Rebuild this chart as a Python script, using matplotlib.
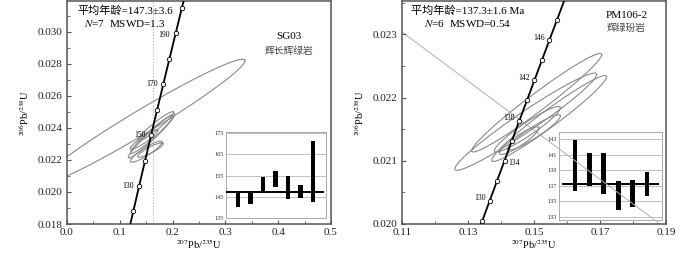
import numpy as np
import matplotlib
matplotlib.use('Agg')
import matplotlib.pyplot as plt
from matplotlib.ticker import MultipleLocator, FormatStrFormatter, FixedLocator

plt.rcParams['font.family'] = ['Liberation Serif', 'Noto Sans CJK SC']
plt.rcParams['mathtext.fontset'] = 'stix'

# decay constants (per year)
L238 = 1.55125e-10
L235 = 9.8485e-10

# ---------------- SG03 data ----------------
sg_marker_ages = [120, 130, 140, 150, 160, 170, 180, 190, 200]
sg_label_ages = [130, 150, 170, 190]
# ellipses: centre x, centre y, half extent x, half extent y, correlation
sg_ell_x = [0.150, 0.158, 0.160, 0.168, 0.160, 0.146, 0.140]
sg_ell_y = [0.02252, 0.02262, 0.02358, 0.02410, 0.02350, 0.02328, 0.02434]
sg_ell_a = [0.030, 0.024, 0.040, 0.034, 0.044, 0.026, 0.197]
sg_ell_b = [0.00066, 0.00045, 0.00118, 0.00092, 0.00138, 0.00062, 0.00395]
sg_ell_r = [0.90, 0.88, 0.96, 0.95, 0.97, 0.92, 0.976]
sg_ref_x = 0.162
sg_xticks = [0.0, 0.1, 0.2, 0.3, 0.4, 0.5]
sg_yticks = [0.018, 0.020, 0.022, 0.024, 0.026, 0.028, 0.030]
sg_bar_low = [140.0, 141.6, 147.0, 149.7, 143.9, 144.4, 142.4]
sg_bar_high = [146.6, 146.6, 154.3, 157.1, 154.8, 150.6, 171.4]
sg_mean = 147.3
sg_inset_ticks = [135, 145, 155, 165, 175]

# ---------------- PM106-2 data ----------------
pm_marker_ages = [128, 130, 132, 134, 136, 138, 140, 142, 144, 146, 148]
pm_label_ages = [130, 134, 138, 142, 146]
pm_ell_x = [0.1508, 0.1475, 0.1546, 0.1480, 0.1500, 0.1455]
pm_ell_y = [0.02192, 0.02162, 0.02167, 0.02150, 0.02145, 0.02132]
pm_ell_a = [0.0197, 0.0215, 0.0174, 0.0100, 0.0080, 0.0060]
pm_ell_b = [0.00078, 0.00077, 0.00068, 0.00036, 0.00028, 0.00022]
pm_ell_r = [0.975, 0.97, 0.97, 0.94, 0.93, 0.90]
pm_ref_x = [0.11, 0.1882]
pm_ref_y = [0.02304, 0.0200]
pm_xticks = [0.11, 0.13, 0.15, 0.17, 0.19]
pm_yticks = [0.020, 0.021, 0.022, 0.023]
pm_bar_low = [136.3, 137.0, 136.0, 133.9, 134.3, 135.7]
pm_bar_high = [142.9, 141.3, 141.2, 137.6, 137.7, 138.8]
pm_mean = 137.3
pm_inset_ticks = [133, 135, 137, 139, 141, 143]

GRAY = '#8a8a8a'
SPINE = '#555555'


def conc(t_ma):
    t = np.asarray(t_ma, dtype=float) * 1e6
    return np.exp(L235 * t) - 1, np.exp(L238 * t) - 1


def ellipse(ax, cx, cy, a, b, r):
    th = np.linspace(0, 2 * np.pi, 300)
    x = cx + a * np.cos(th)
    y = cy + b * (r * np.cos(th) + np.sqrt(1 - r * r) * np.sin(th))
    ax.plot(x, y, color=GRAY, lw=0.8, zorder=2)


def style_main(ax):
    for s in ax.spines.values():
        s.set_color(SPINE)
        s.set_linewidth(1.1)
    ax.tick_params(direction='in', which='both', labelsize=8, colors=SPINE,
                   labelcolor='#222222', pad=3)
    ax.tick_params(which='major', length=3)
    ax.tick_params(which='minor', length=2)
    ax.set_xlabel(r'$^{207}$Pb/$^{235}$U', fontsize=7.5, labelpad=0)
    ax.set_ylabel(r'$^{206}$Pb/$^{238}$U', fontsize=7.5, labelpad=5)


def draw_conc(ax, t0, t1, marker_ages):
    tt = np.linspace(t0, t1, 400)
    cx, cy = conc(tt)
    ax.plot(cx, cy, color='black', lw=1.3, zorder=4)
    mx, my = conc(marker_ages)
    ax.plot(mx, my, 'o', ms=3.2, mfc='white', mec='black', mew=0.6, zorder=5)


def inset(fig, rect, low, high, mean, ticks, ylim, xlim, meanspan, width):
    ia = fig.add_axes(rect)
    ia.set_facecolor('white')
    idx = np.arange(len(low))
    ia.bar(idx, np.array(high) - np.array(low), bottom=low, width=width,
           color='black', zorder=3)
    ia.plot(meanspan, [mean, mean], color='black', lw=1.4, zorder=4)
    ia.set_yticks(ticks)
    ia.set_ylim(*ylim)
    ia.set_xlim(*xlim)
    ia.set_xticks([])
    ia.yaxis.grid(True, color='#b5b5b5', lw=0.6)
    ia.set_axisbelow(True)
    ia.tick_params(axis='y', length=0, labelsize=4.5, pad=1.5,
                   labelcolor='#333333')
    for s in ia.spines.values():
        s.set_color('#aaaaaa')
        s.set_linewidth(0.7)
    return ia


fig = plt.figure(figsize=(7.0, 2.54), dpi=100)

# ---------------- left panel ----------------
ax1 = fig.add_axes([67 / 700, 30 / 254, 264 / 700, 223 / 254])
ax1.set_xlim(0, 0.5)
ax1.set_ylim(0.018, 0.03193)
ax1.axvline(sg_ref_x, color='#b0b0b0', lw=0.8, ls=':', zorder=1)
for cx, cy, a, b, r in zip(sg_ell_x, sg_ell_y, sg_ell_a, sg_ell_b, sg_ell_r):
    ellipse(ax1, cx, cy, a, b, r)
draw_conc(ax1, 110, 215, sg_marker_ages)
lx, ly = conc(sg_label_ages)
for t, x, y in zip(sg_label_ages, lx, ly):
    dy = -1.5 if t == 190 else 0
    ax1.annotate(str(t), (x, y), xytext=(-4, dy), textcoords='offset points',
                 ha='right', va='center', fontsize=5.5, zorder=6)
ax1.xaxis.set_major_locator(FixedLocator(sg_xticks))
ax1.xaxis.set_minor_locator(MultipleLocator(0.05))
ax1.yaxis.set_major_locator(FixedLocator(sg_yticks))
ax1.yaxis.set_minor_locator(MultipleLocator(0.001))
ax1.xaxis.set_major_formatter(FormatStrFormatter('%.1f'))
ax1.yaxis.set_major_formatter(FormatStrFormatter('%.3f'))
style_main(ax1)
ax1.text(0.22, 0.98, '平均年龄=147.3±3.6', transform=ax1.transAxes,
         ha='center', va='top', fontsize=8)
ax1.text(0.22, 0.925, r'$N$=7  MSWD=1.3', transform=ax1.transAxes,
         ha='center', va='top', fontsize=8)
ax1.text(0.84, 0.84, 'SG03', transform=ax1.transAxes, ha='center',
         va='center', fontsize=8)
ax1.text(0.84, 0.775, '辉长辉绿岩', transform=ax1.transAxes, ha='center',
         va='center', fontsize=7, color='#444444')
inset(fig, [226 / 700, 36 / 254, 100 / 700, 86 / 254], sg_bar_low,
      sg_bar_high, sg_mean, sg_inset_ticks, (135, 175.5), (-0.96, 7.04),
      [-0.88, 6.8], 0.35)

# ---------------- right panel ----------------
ax2 = fig.add_axes([402 / 700, 30 / 254, 264 / 700, 223 / 254])
ax2.set_xlim(0.11, 0.19)
ax2.set_ylim(0.020, 0.02353)
ax2.plot(pm_ref_x, pm_ref_y, color='#b0b0b0', lw=0.7, zorder=1)
for cx, cy, a, b, r in zip(pm_ell_x, pm_ell_y, pm_ell_a, pm_ell_b, pm_ell_r):
    ellipse(ax2, cx, cy, a, b, r)
draw_conc(ax2, 127, 150, pm_marker_ages)
lx, ly = conc(pm_label_ages)
for t, x, y in zip(pm_label_ages, lx, ly):
    if t == 134:
        ax2.annotate(str(t), (x, y), xytext=(3, -2), textcoords='offset points',
                     ha='left', va='center', fontsize=5.5, zorder=6)
    else:
        ax2.annotate(str(t), (x, y), xytext=(-3, 2), textcoords='offset points',
                     ha='right', va='center', fontsize=5.5, zorder=6)
ax2.xaxis.set_major_locator(FixedLocator(pm_xticks))
ax2.xaxis.set_minor_locator(MultipleLocator(0.01))
ax2.yaxis.set_major_locator(FixedLocator(pm_yticks))
ax2.yaxis.set_minor_locator(MultipleLocator(0.0005))
ax2.xaxis.set_major_formatter(FormatStrFormatter('%.2f'))
ax2.yaxis.set_major_formatter(FormatStrFormatter('%.3f'))
style_main(ax2)
ax2.text(0.25, 0.98, '平均年龄=137.3±1.6 Ma', transform=ax2.transAxes,
         ha='center', va='top', fontsize=8)
ax2.text(0.25, 0.925, r'$N$=6  MSWD=0.54', transform=ax2.transAxes,
         ha='center', va='top', fontsize=8)
ax2.text(0.85, 0.935, 'PM106-2', transform=ax2.transAxes, ha='center',
         va='center', fontsize=8)
ax2.text(0.85, 0.88, '辉绿玢岩', transform=ax2.transAxes, ha='center',
         va='center', fontsize=7, color='#444444')
ia2 = inset(fig, [559 / 700, 34 / 254, 103 / 700, 88 / 254], pm_bar_low,
            pm_bar_high, pm_mean, pm_inset_ticks, (132.6, 143.95),
            (-1.11, 6.04), [-0.83, 5.76], 0.32)
ia2.plot(pm_ref_x, pm_ref_y, color='#b0b0b0', lw=0.7, transform=ax2.transData,
         zorder=5)

fig.savefig('out.png', dpi=100)
